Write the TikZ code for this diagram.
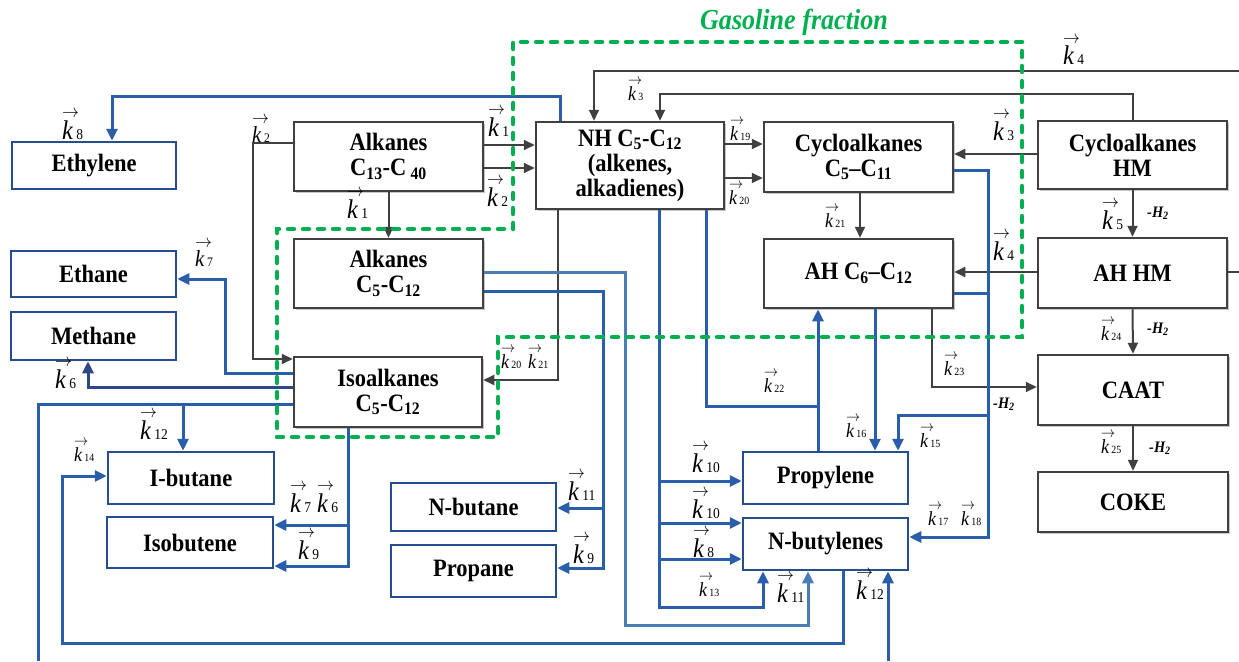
\documentclass[tikz,border=0pt]{standalone}
\usepackage{fontspec}
\setmainfont{Liberation Serif}[FakeStretch=0.9]
\usepackage{graphicx}
\usetikzlibrary{arrows.meta,shadows}

\definecolor{lineblue}{RGB}{42,94,170}
\definecolor{boxblue}{RGB}{36,78,140}
\definecolor{navyline}{RGB}{45,72,135}
\definecolor{steelline}{RGB}{74,126,181}
\definecolor{dgray}{RGB}{64,64,64}
\definecolor{gasgreen}{RGB}{0,176,80}

% italic k with a vector arrow set above it
\newcommand{\karrow}{\makebox[0pt][l]{\kern0.0em\raisebox{0.80em}[0pt][0pt]{\scalebox{0.68}[0.75]{$\rightarrow$}}}\textit{k}}
% rate constants in three sizes
\newcommand{\kbig}[1]{{\fontsize{27}{27}\selectfont\karrow\kern3pt{\fontsize{15}{15}\selectfont #1}}}
\newcommand{\kmed}[1]{{\fontsize{23}{23}\selectfont\karrow\kern2.5pt{\fontsize{13}{13}\selectfont #1}}}
\newcommand{\ksmall}[1]{{\fontsize{20}{20}\selectfont\karrow\kern2pt{\fontsize{11}{11}\selectfont #1}}}
\newcommand{\dehyd}{{\fontsize{16}{16}\selectfont\bfseries\itshape -H\textsubscript{2}}}
\newcommand{\boxfont}{\fontsize{25}{25}\selectfont\bfseries}

\tikzset{
  gbox/.style={draw=dgray, line width=2.5pt, fill=white, align=center, font=\boxfont,
    inner sep=0pt, drop shadow={shadow xshift=2pt, shadow yshift=-2pt, fill=black!22, opacity=1}},
  bbox/.style={draw=boxblue, line width=2.5pt, fill=white, align=center, font=\boxfont, inner sep=0pt},
  gline/.style={draw=dgray, line width=2pt},
  garr/.style={gline, -{Triangle[length=11pt,width=10pt]}},
  bline/.style={draw=lineblue, line width=3pt},
  barr/.style={bline, -{Triangle[length=12pt,width=11pt]}},
  gasline/.style={draw=gasgreen, line width=4.5pt, line cap=round, dash pattern=on 6pt off 9pt},
  lab/.style={anchor=base west, inner sep=0pt},
}

\begin{document}
\begin{tikzpicture}[x=1pt,y=-1pt]
\useasboundingbox (0,0) rectangle (1239,661);

% ---------- product boxes (blue) ----------
\node[bbox, minimum width=164pt, minimum height=47pt] (eth)   at (94,165.5)  {Ethylene};
\node[bbox, minimum width=165pt, minimum height=46pt] (ethane) at (93.5,274) {Ethane};
\node[bbox, minimum width=165pt, minimum height=48pt] (meth)  at (93.5,336)  {Methane};
\node[bbox, minimum width=166pt, minimum height=52pt] (ibut)  at (191,478)   {I-butane};
\node[bbox, minimum width=166pt, minimum height=51pt] (isob)  at (190,542.5) {Isobutene};
\node[bbox, minimum width=165pt, minimum height=48pt] (nbut)  at (473.5,507) {N-butane};
\node[bbox, minimum width=165pt, minimum height=52pt] (prop)  at (473.5,571) {Propane};
\node[bbox, minimum width=165pt, minimum height=52pt] (propy) at (825.5,478) {Propylene};
\node[bbox, minimum width=165pt, minimum height=52pt] (nbuty) at (825.5,544) {N-butylenes};

% ---------- hydrocarbon groups (gray) ----------
\node[gbox, minimum width=189pt, minimum height=69pt] (alk13) at (388.5,156.5) {Alkanes\\C\textsubscript{13}-C\,\textsubscript{40}};
\node[gbox, minimum width=189pt, minimum height=69pt] (alk5)  at (388.5,273.5) {Alkanes\\C\textsubscript{5}-C\textsubscript{12}};
\node[gbox, minimum width=188pt, minimum height=70pt] (iso)   at (388,392)     {Isoalkanes\\C\textsubscript{5}-C\textsubscript{12}};
\node[gbox, minimum width=188pt, minimum height=87pt] (nh)    at (630,165.5)   {NH C\textsubscript{5}-C\textsubscript{12}\\(alkenes,\\alkadienes)};
\node[gbox, minimum width=189pt, minimum height=70pt] (cyc)   at (858.5,157)   {Cycloalkanes\\C\textsubscript{5}--C\textsubscript{11}};
\node[gbox, minimum width=189pt, minimum height=69pt] (ah)    at (858.5,273.5) {AH C\textsubscript{6}--C\textsubscript{12}};
\node[gbox, minimum width=189pt, minimum height=68pt] (cychm) at (1132.5,155)  {Cycloalkanes\\HM};
\node[gbox, minimum width=189pt, minimum height=70pt] (ahhm)  at (1132.5,273)  {AH HM};
\node[gbox, minimum width=190pt, minimum height=70pt] (caat)  at (1133,390)    {CAAT};
\node[gbox, minimum width=190pt, minimum height=60pt] (coke)  at (1133,502)    {COKE};

% free ends at the border of the drawing
\coordinate (edgeK4a) at (1239,71);
\coordinate (edgeK4b) at (1239,272);
\coordinate (edgeL)   at (38,661);
\coordinate (edgeR)   at (888,661);

% ---------- gray connectors ----------
\draw[garr] (alk13.west |- 0,143) -- ++(-40,0) |- (iso.west |- 0,359);
\draw[garr] (alk13.south) -- (alk5.north);
\draw[garr] (alk13.east |- 0,145) -- (nh.west |- 0,145);
\draw[garr] (alk13.east |- 0,168) -- (nh.west |- 0,168);
\draw[garr] (nh.south -| 558,0) |- (iso.east |- 0,380);
\draw[garr] (edgeK4a) -| (nh.north -| 594,0);
\draw[garr] (cychm.north) -- ++(0,-26) -| (nh.north -| 660,0);
\draw[garr] (cychm.west |- 0,154) -- (cyc.east |- 0,154);
\draw[garr] (ahhm.west |- 0,272) -- (ah.east |- 0,272);
\draw[gline] (ahhm.east |- 0,272) -- (edgeK4b);
\draw[garr] (cychm.south) -- (ahhm.north);
\draw[garr] (ahhm.south) -- (caat.north);
\draw[garr] (caat.south) -- (coke.north);
\draw[garr] (ah.south -| 932,0) |- (caat.west |- 0,387);
\draw[garr] (nh.east |- 0,144) -- (cyc.west |- 0,144);
\draw[garr] (nh.east |- 0,178) -- (cyc.west |- 0,178);
\draw[garr] (cyc.south -| 860,0) -- (ah.north -| 860,0);

% ---------- blue connectors ----------
\draw[barr] (nh.north -| 560,0) -- ++(0,-24) -| (eth.north -| 112,0);
\draw[barr] (iso.west |- 0,373) -- ++(-67,0) |- (ethane.east |- 0,279);
\draw[barr, draw=navyline] (iso.west |- 0,387) -| (meth.south -| 88,0);
\draw[bline] (iso.west |- 0,404) -| (edgeL);
\draw[barr] (183,404) -- (ibut.north -| 183,0);
\draw[barr] (nbuty.south -| 843,0) |- (62,643) |- (ibut.west |- 0,476);
\draw[barr] (iso.south -| 348,0) |- (isob.east |- 0,566);
\draw[barr] (348,525) -- (isob.east |- 0,525);
\draw[barr] (alk5.east |- 0,291) -- (603,291) |- (prop.east |- 0,568);
\draw[barr] (603,508) -- (nbut.east |- 0,508);
\draw[barr, draw=steelline] (alk5.east |- 0,272) -- (625,272) |- (808,625) -- (nbuty.south -| 808,0);
\draw[barr] (nh.south -| 659,0) |- (763,607) -- (nbuty.south -| 763,0);
\draw[barr] (659,481) -- (propy.west |- 0,481);
\draw[barr] (659,523) -- (nbuty.west |- 0,523);
\draw[barr] (659,559) -- (nbuty.west |- 0,559);
\draw[bline] (nh.south -| 706,0) |- (818,406);
\draw[barr] (propy.north -| 818,0) -- (ah.south -| 818,0);
\draw[barr] (ah.south -| 875,0) -- (propy.north -| 875,0);
\draw[barr] (cyc.east |- 0,170) -- (988,170) |- (nbuty.east |- 0,537);
\draw[bline] (ah.east |- 0,293) -- (988,293);
\draw[barr] (988,415) -| (propy.north -| 898,0);
\draw[barr] (edgeR) -- (nbuty.south -| 888,0);

% ---------- gasoline fraction outline ----------
\draw[gasline] (513,229) -- (513,42) -- (1022,42) -- (1022,337) -- (498,337)
  -- (498,437) -- (277,437) -- (277,229) -- cycle;
\node[text=gasgreen, font=\fontsize{29}{29}\selectfont\bfseries\itshape] (gas) at (794,22) {Gasoline fraction};

% ---------- rate constant labels ----------
\node[lab] at (62,139)   {\kbig{8}};
\node[lab] at (488,136)  {\kbig{1}};
\node[lab] at (487,206)  {\kbig{2}};
\node[lab] at (347,218)  {\kbig{1}};
\node[lab] at (1063,65)  {\kbig{4}};
\node[lab] at (993,140)  {\kbig{3}};
\node[lab] at (993,260)  {\kbig{4}};
\node[lab] at (1102,229) {\kbig{5}};
\node[lab] at (55,388)   {\kbig{6}};
\node[lab] at (140,439)  {\kbig{12}};
\node[lab] at (290,512)  {\kbig{7}};
\node[lab] at (317,512)  {\kbig{6}};
\node[lab] at (298,559)  {\kbig{9}};
\node[lab] at (568,500)  {\kbig{11}};
\node[lab] at (573,563)  {\kbig{9}};
\node[lab] at (692,472)  {\kbig{10}};
\node[lab] at (692,518)  {\kbig{10}};
\node[lab] at (693,557)  {\kbig{8}};
\node[lab] at (777,602)  {\kbig{11}};
\node[lab] at (856,599)  {\kbig{12}};
\node[lab] at (252,142)  {\kmed{2}};
\node[lab] at (195,266)  {\kmed{7}};
\node[lab] at (628,100)  {\ksmall{3}};
\node[lab] at (730,140)  {\ksmall{19}};
\node[lab] at (729,204)  {\ksmall{20}};
\node[lab] at (825,227)  {\ksmall{21}};
\node[lab] at (501,368)  {\ksmall{20}};
\node[lab] at (528,368)  {\ksmall{21}};
\node[lab] at (764,392)  {\ksmall{22}};
\node[lab] at (846,437)  {\ksmall{16}};
\node[lab] at (1101,340) {\ksmall{24}};
\node[lab] at (944,375)  {\ksmall{23}};
\node[lab] at (920,447)  {\ksmall{15}};
\node[lab] at (1101,453) {\ksmall{25}};
\node[lab] at (928,525)  {\ksmall{17}};
\node[lab] at (961,525)  {\ksmall{18}};
\node[lab] at (699,596)  {\ksmall{13}};
\node[lab] at (74,461)   {\ksmall{14}};

% dehydrogenation marks
\node[lab] at (1147,217) {\dehyd};
\node[lab] at (1147,333) {\dehyd};
\node[lab] at (993,408)  {\dehyd};
\node[lab] at (1149,452) {\dehyd};
\end{tikzpicture}
\end{document}
